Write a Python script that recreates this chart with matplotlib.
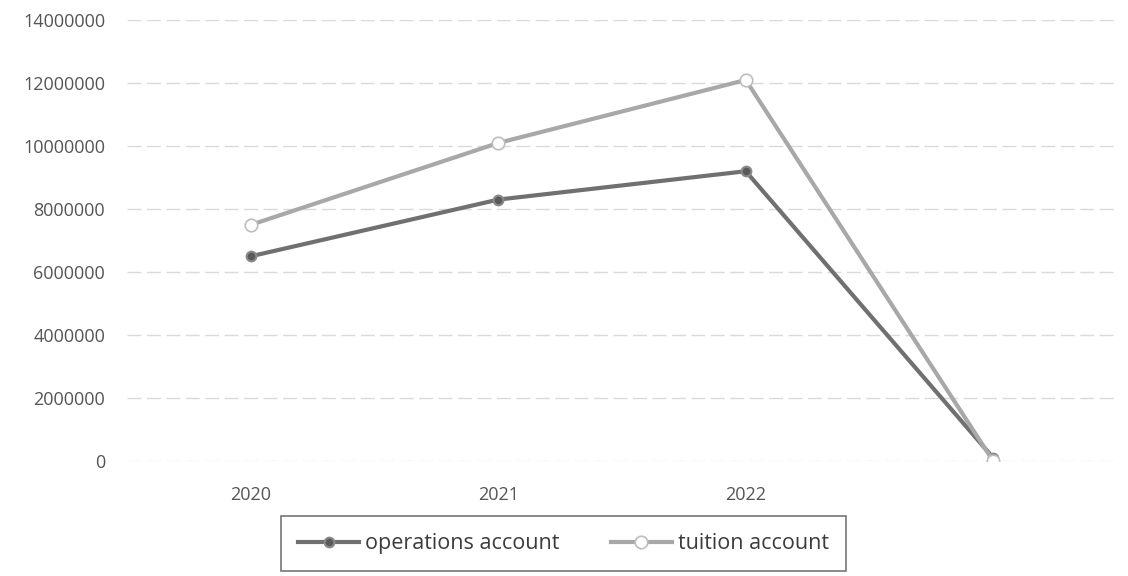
import matplotlib
matplotlib.use("Agg")
import matplotlib.pyplot as plt

plt.rcParams['font.family'] = ['Open Sans', 'DejaVu Sans']

years = ['2020', '2021', '2022', '']
operations = [6500000, 8300000, 9200000, 100000]
tuition = [7500000, 10100000, 12100000, 0]
yticks = [0, 2000000, 4000000, 6000000, 8000000, 10000000, 12000000, 14000000]

fig = plt.figure(figsize=(11.28, 5.76), dpi=100)
ax = fig.add_axes([0.113, 0.2, 0.877, 0.765])

x = list(range(len(years)))
ax.plot(x, operations, color='#707070', linewidth=3, marker='o', markersize=7,
        markerfacecolor='#5a5a5a', markeredgecolor='#8a8a8a', markeredgewidth=1.5,
        label='operations account', zorder=3)
ax.plot(x, tuition, color='#a8a8a8', linewidth=3, marker='o', markersize=9,
        markerfacecolor='white', markeredgecolor='#bdbdbd', markeredgewidth=1.2,
        label='tuition account', zorder=3)

ax.set_xlim(-0.5, 3.5)
ax.set_ylim(0, 14000000)
ax.set_xticks(x)
ax.set_xticklabels(years)
ax.set_yticks(yticks)
ax.set_yticklabels([str(v) for v in yticks])
ax.tick_params(axis='both', length=0, labelsize=13, labelcolor='#555555', pad=18)
ax.tick_params(axis='y', pad=16)

ax.grid(axis='y', color='#dadada', linewidth=1, linestyle=(0, (10, 4)))
ax.set_axisbelow(True)
for s in ax.spines.values():
    s.set_visible(False)

leg = ax.legend(loc='upper center', bbox_to_anchor=(0.441, -0.125), ncol=2,
                frameon=True, fancybox=False, edgecolor='#555555', fontsize=15.5,
                handlelength=2.8, handletextpad=0.3, columnspacing=2.4,
                borderpad=0.8, borderaxespad=0.0)
leg.get_frame().set_linewidth(1.2)
for t in leg.get_texts():
    t.set_color('#3c3c3c')

fig.savefig('out.png', dpi=100, facecolor='white')
